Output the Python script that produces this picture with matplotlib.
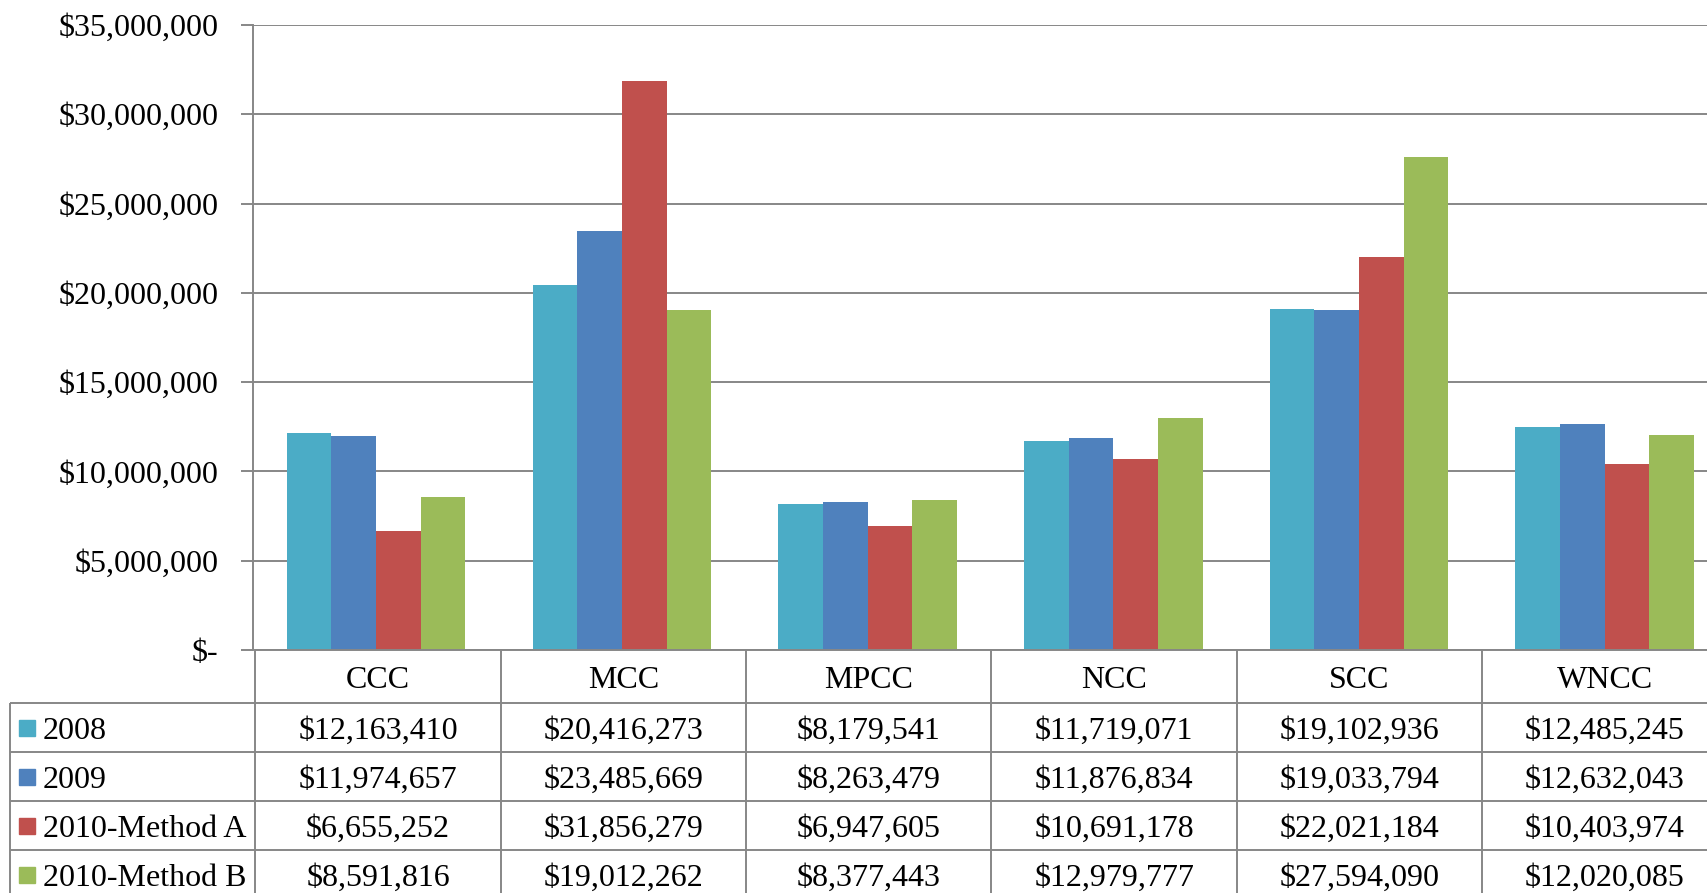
import matplotlib
matplotlib.use("Agg")
import matplotlib.pyplot as plt
from matplotlib.ticker import FuncFormatter, MultipleLocator

plt.rcParams['font.family'] = ['Liberation Serif', 'DejaVu Serif']

colleges = ["CCC", "MCC", "MPCC", "NCC", "SCC", "WNCC"]
series_names = ["2008", "2009", "2010-Method A", "2010-Method B"]
v2008 = [12163410, 20416273, 8179541, 11719071, 19102936, 12485245]
v2009 = [11974657, 23485669, 8263479, 11876834, 19033794, 12632043]
v2010a = [6655252, 31856279, 6947605, 10691178, 22021184, 10403974]
v2010b = [8591816, 19012262, 8377443, 12979777, 27594090, 12020085]
colors = ["#4BACC6", "#4F81BD", "#C0504D", "#9BBB59"]

series = [v2008, v2009, v2010a, v2010b]
W, H = 1707, 893
grey = "#878787"
fs = 23

fig = plt.figure(figsize=(W / 100, H / 100), dpi=100)

# bar chart area (runs a bit past the right edge, like the original)
x0, x1 = 253.3, 1727.5
ytop, yzero = 25, 650
ax = fig.add_axes([x0 / W, (H - yzero) / H, (x1 - x0) / W, (yzero - ytop) / H])
bw = 1 / 5.5
for i, (vals, c) in enumerate(zip(series, colors)):
    xs = [k + (i - 1.5) * bw for k in range(len(colleges))]
    ax.bar(xs, vals, width=bw, color=c, zorder=2)

ax.set_xlim(-0.5, len(colleges) - 0.5)
ax.set_ylim(0, 35e6)
ax.yaxis.set_major_locator(MultipleLocator(5e6))
ax.yaxis.set_major_formatter(FuncFormatter(lambda v, p: "$-" if v == 0 else f"${v:,.0f}"))
ax.yaxis.grid(True, color=grey, lw=1.4, zorder=0)
ax.set_axisbelow(True)
ax.set_xticks([])
for s in ["top", "right", "bottom"]:
    ax.spines[s].set_visible(False)
ax.spines["left"].set_color(grey)
ax.spines["left"].set_linewidth(1.4)
ax.tick_params(axis="y", length=9, width=1.4, color=grey, labelsize=fs, pad=16)

# data table below the chart
tx0 = 10
row_edges = [0, 53, 102, 151, 200, 249]
tab = fig.add_axes([tx0 / W, (H - yzero - row_edges[-1]) / H, (x1 - tx0) / W, row_edges[-1] / H])
tab.set_xlim(-1.5, len(colleges) - 0.5)
tab.set_ylim(row_edges[-1], 0)
tab.axis("off")

n = len(colleges)
tab.hlines(row_edges[0], -0.5, n - 0.5, color=grey, lw=1.4, clip_on=False)
for y in row_edges[1:]:
    tab.hlines(y, -1.5, n - 0.5, color=grey, lw=1.4, clip_on=False)
for k in range(n + 1):
    tab.vlines(k - 0.5, row_edges[0], row_edges[-1], color=grey, lw=1.4, clip_on=False)
tab.vlines(-1.5, row_edges[1], row_edges[-1], color=grey, lw=1.4, clip_on=False)

dy = 4  # small downward nudge for the text
hy = (row_edges[0] + row_edges[1]) / 2
for k, name in enumerate(colleges):
    tab.text(k, hy + dy, name, ha="center", va="center", fontsize=fs)

unit = (x1 - tx0) / 7
for i, (name, vals, c) in enumerate(zip(series_names, series, colors)):
    yc = (row_edges[i + 1] + row_edges[i + 2]) / 2
    tab.plot(-1.5 + 17 / unit, yc, marker="s", ms=11.5, color=c, mec=c, clip_on=False)
    tab.text(-1.5 + 33 / unit, yc + dy, name, ha="left", va="center", fontsize=fs)
    for k, v in enumerate(vals):
        tab.text(k, yc + dy, f"${v:,.0f}", ha="center", va="center", fontsize=fs)

fig.savefig("out.png", dpi=100)
